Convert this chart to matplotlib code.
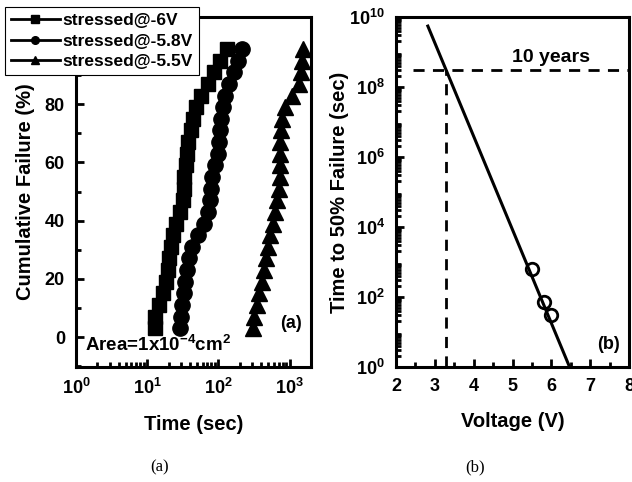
import matplotlib
matplotlib.use('Agg')
import matplotlib.pyplot as plt
from matplotlib.ticker import MultipleLocator, LogLocator, NullFormatter

plt.rcParams['font.family'] = 'Liberation Sans'
plt.rcParams['font.weight'] = 'bold'
plt.rcParams['mathtext.fontset'] = 'custom'
plt.rcParams['mathtext.rm'] = 'Liberation Sans:bold'
plt.rcParams['mathtext.it'] = 'Liberation Sans:bold'
plt.rcParams['mathtext.bf'] = 'Liberation Sans:bold'

# (a) cumulative failure vs time
pct = [3, 7, 11, 15, 19, 23, 27, 31, 35, 39, 43, 47, 51, 55, 59, 63, 67, 71,
       75, 79, 83, 87, 91, 95, 99]
t_6v = [12.9, 12.9, 14.8, 16.6, 18.6, 19.5, 20.4, 21.4, 23.4, 25.7, 28.8, 31.6,
        32.4, 33.1, 34.7, 36.3, 38.0, 40.7, 44.7, 49.0, 57.5, 72.4, 87.1, 107, 132]
t_58v = [28.8, 29.5, 30.9, 32.4, 33.9, 36.3, 38.9, 42.7, 52.5, 63.1, 70.8, 75.9,
         79.4, 81.3, 89.1, 97.7, 102, 107, 110, 115, 123, 141, 166, 191, 214]
t_55v = [302, 316, 347, 372, 407, 437, 468, 501, 537, 589, 631, 676, 708, 724,
         724, 741, 741, 759, 776, 851, 1072, 1349, 1445, 1479, 1549]

# (b) time to 50% failure vs voltage
volt = [5.5, 5.8, 6.0]
t50 = [650, 73, 30]
fit_v = [2.82, 6.47]
fit_t = [5.5e9, 1.0]
ten_years = 3.15e8
v_10y = 3.3

fig = plt.figure(figsize=(6.32, 4.82), dpi=100)
fig.patch.set_facecolor('white')

ax1 = fig.add_axes([76 / 632, 115 / 482, 235 / 632, 350 / 482])
ax1.plot(t_6v, pct, '-s', color='black', ms=10.5, lw=2, label='stressed@-6V')
ax1.plot(t_58v, pct, '-o', color='black', ms=11, lw=2, label='stressed@-5.8V')
ax1.plot(t_55v, pct, '-^', color='black', ms=11, lw=2, label='stressed@-5.5V')
ax1.set_xscale('log')
ax1.set_xlim(1, 2000)
ax1.set_ylim(-10.3, 110)
ax1.yaxis.set_major_locator(MultipleLocator(20))
ax1.yaxis.set_minor_locator(MultipleLocator(10))
ax1.xaxis.set_major_locator(LogLocator(base=10, numticks=10))
ax1.xaxis.set_minor_locator(LogLocator(base=10, subs=range(2, 10), numticks=10))
ax1.xaxis.set_minor_formatter(NullFormatter())
ax1.set_xlabel('Time (sec)', fontsize=14.5, fontweight='bold', labelpad=12)
ax1.set_ylabel('Cumulative Failure (%)', fontsize=14.5, fontweight='bold', labelpad=0)
ax1.text(0.04, 0.035, r'Area=1x10$^{-4}$cm$^{2}$', transform=ax1.transAxes,
         fontsize=13.5, fontweight='bold', ha='left', va='bottom')
ax1.text(0.96, 0.1, '(a)', transform=ax1.transAxes, fontsize=13,
         fontweight='bold', ha='right', va='bottom')
leg = ax1.legend(loc='upper left', bbox_to_anchor=(5 / 632, 1 - 7 / 482),
                 bbox_transform=fig.transFigure, borderaxespad=0, fancybox=False,
                 edgecolor='black', framealpha=1, fontsize=12.5, handlelength=2.8,
                 markerscale=0.5, borderpad=0.35, labelspacing=0.3,
                 handletextpad=0.15)
leg.get_frame().set_linewidth(0.8)
leg.set_zorder(10)

ax2 = fig.add_axes([396 / 632, 115 / 482, 233 / 632, 350 / 482])
ax2.plot(fit_v, fit_t, '-', color='black', lw=2.2)
ax2.plot(volt, t50, 'o', mfc='none', mec='black', mew=2, ms=9)
ax2.axhline(ten_years, color='black', lw=2, ls=(0, (4, 3)), xmin=(2.45 - 2) / 6)
ax2.plot([v_10y, v_10y], [1, ten_years], color='black', lw=2, ls=(0, (4, 3)))
ax2.set_yscale('log')
ax2.set_xlim(2, 8)
ax2.set_ylim(1, 1e10)
ax2.xaxis.set_major_locator(MultipleLocator(1))
ax2.xaxis.set_minor_locator(MultipleLocator(0.5))
ax2.yaxis.set_major_locator(LogLocator(base=10, numticks=20))
ax2.yaxis.set_minor_locator(LogLocator(base=10, subs=range(2, 10), numticks=20))
ax2.yaxis.set_minor_formatter(NullFormatter())
yt = [1, 1e2, 1e4, 1e6, 1e8, 1e10]
ax2.set_yticks(yt)
ax2.set_yticklabels([r'$10^{0}$', r'$10^{2}$', r'$10^{4}$', r'$10^{6}$',
                     r'$10^{8}$', r'$10^{10}$'])
ax2.set_xlabel('Voltage (V)', fontsize=14.5, fontweight='bold', labelpad=12)
ax2.set_ylabel('Time to 50% Failure (sec)', fontsize=14.5, fontweight='bold', labelpad=0)
ax2.text(0.5, 0.86, '10 years', transform=ax2.transAxes, fontsize=14,
         fontweight='bold', ha='left', va='bottom')
ax2.text(0.96, 0.04, '(b)', transform=ax2.transAxes, fontsize=13,
         fontweight='bold', ha='right', va='bottom')

for ax in (ax1, ax2):
    for sp in ax.spines.values():
        sp.set_linewidth(2.2)
    ax.tick_params(which='both', direction='in', labelsize=13, width=2,
                   top=False, right=False)
    ax.tick_params(which='major', length=6, pad=8)
    ax.tick_params(which='minor', length=3.5)
    for lbl in ax.get_xticklabels() + ax.get_yticklabels():
        lbl.set_fontweight('bold')

fig.text(160 / 632, 1 - 467 / 482, '(a)', fontsize=12, family='Liberation Serif',
         fontweight='normal', ha='center', va='center')
fig.text(475 / 632, 1 - 467 / 482, '(b)', fontsize=12, family='Liberation Serif',
         fontweight='normal', ha='center', va='center')

fig.savefig('out.png', dpi=100, facecolor='white')
